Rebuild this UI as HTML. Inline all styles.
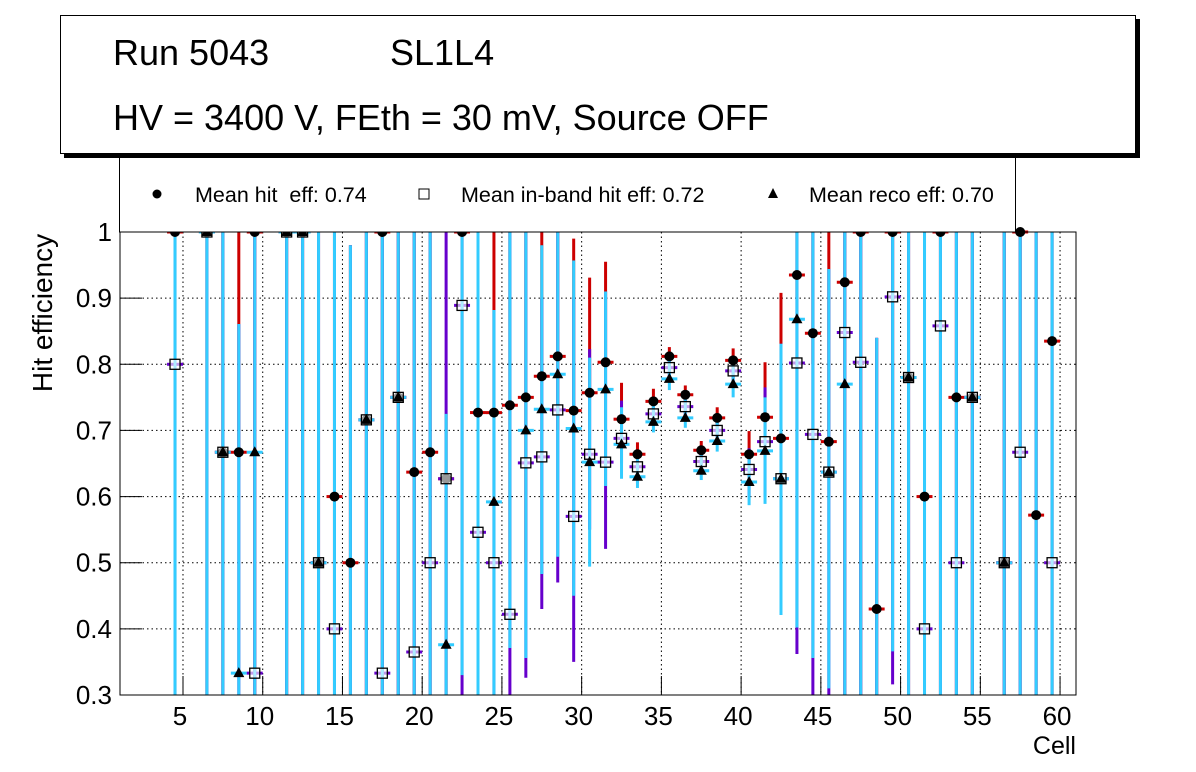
<!DOCTYPE html>
<html><head><meta charset="utf-8"><style>
body{margin:0;background:#fff;}
svg{display:block;font-family:"Liberation Sans",Arial,sans-serif;}
</style></head><body>
<svg id="chart" width="1196" height="772" viewBox="0 0 1196 772" xmlns="http://www.w3.org/2000/svg">
<rect x="0" y="0" width="1196" height="772" fill="#fff"/>
<g id="grid"></g>
<g id="marks"></g>
<rect x="120" y="232" width="956" height="463" fill="none" stroke="#000" stroke-width="1"/>
<g id="axes"></g>
<text x="52" y="313" font-size="28" text-anchor="middle" transform="rotate(-90 52 313)">Hit efficiency</text>
<text x="1076" y="754" font-size="25" text-anchor="end">Cell</text>
<g>
<rect x="119.5" y="150" width="896" height="82" fill="#fff" stroke="#000"/>
<circle cx="157" cy="194" r="4.5" fill="#000"/>
<text x="195" y="202" font-size="21.5">Mean hit&#160; eff: 0.74</text>
<rect x="419" y="189" width="10" height="10" fill="#fff" stroke="#000"/>
<text x="461" y="202" font-size="21.5">Mean in-band hit eff: 0.72</text>
<polygon points="773,188 778,198 768,198" fill="#000"/>
<text x="809" y="202" font-size="21.5">Mean reco eff: 0.70</text>
</g>
<g>
<rect x="64" y="19" width="1076" height="139" fill="#000"/>
<rect x="60.5" y="15.5" width="1075" height="138" fill="#fff" stroke="#000"/>
<text x="113" y="65" font-size="36">Run 5043</text>
<text x="390" y="65" font-size="36">SL1L4</text>
<text x="113" y="130" font-size="36">HV = 3400 V, FEth = 30 mV, Source OFF</text>
</g>
</svg>
<script>
const cells=[4.5,6.5,7.5,8.5,9.5,11.5,12.5,13.5,14.5,15.5,16.5,17.5,18.5,19.5,20.5,21.5,22.5,23.5,24.5,25.5,26.5,27.5,28.5,29.5,30.5,31.5,32.5,33.5,34.5,35.5,36.5,37.5,38.5,39.5,40.5,41.5,42.5,43.5,44.5,45.5,46.5,47.5,48.5,49.5,50.5,51.5,52.5,53.5,54.5,56.5,57.5,58.5,59.5];
const hitEff=[1,1,.667,.667,1,1,1,.5,.6,.5,.716,1,.75,.637,.667,.627,1,.727,.727,.738,.75,.782,.812,.73,.757,.803,.717,.664,.744,.812,.754,.67,.719,.806,.664,.72,.688,.935,.847,.683,.924,1,.43,1,.78,.6,1,.75,.75,.5,1,.572,.835];
const inbandEff=[.8,1,.667,null,.333,1,1,.5,.4,null,.716,.333,.75,.365,.5,.627,.889,.546,.5,.422,.651,.66,.731,.57,.664,.652,.688,.645,.725,.795,.736,.653,.70,.79,.641,.683,.627,.802,.694,.637,.848,.803,null,.902,.78,.4,.858,.5,.75,.5,.667,null,.5];
const recoEff=[null,1,.667,.333,.667,1,1,.5,null,null,.716,null,.75,null,null,.376,null,null,.592,null,.70,.732,.785,.703,.652,.762,.679,.63,.713,.778,.719,.639,.684,.77,.622,.669,.627,.868,null,.637,.77,null,null,null,.78,null,null,null,.75,.5,null,null,null];
const hitLo=[0,0,0,.667,0,0,0,0,0,0,0,0,0,0,0,0,.5,0,.727,.5,.5,.78,.7,.73,.76,.8,.7,.65,.73,.8,.74,.66,.71,.79,.65,.7,.67,.9,.8,.68,0,0,0,.5,0,0,0,0,0,0,0,0,0];
const hitHi=[1,1,1,1,1,1,1,1,1,.98,1,1,1,1,1,.725,1,1,1,1,1,1,1,.99,.931,.955,.772,.682,.763,.826,.768,.684,.735,.824,.699,.803,.908,1,1,1,1,1,.84,1,1,1,1,1,1,1,1,1,1];
const inbLo=[0,0,0,0,0,0,0,0,0,0,0,0,0,0,0,.3,0,0,0,0,.326,.43,.47,.35,.55,.521,.65,.62,.71,.78,.72,.64,.69,.77,.6,.6,.5,.362,0,.3,0,0,0,.316,0,0,0,0,0,0,0,0,0];
const inbHi=[1,1,1,.861,1,1,1,1,1,.98,1,1,1,1,1,1,1,1,.882,1,1,.9,1,.9,.823,.91,.745,.67,.75,.815,.76,.675,.725,.81,.673,.765,.831,1,1,.944,1,1,.84,1,1,1,1,1,1,1,1,1,1];
const recoLo=[0,0,0,0,0,0,0,0,0,0,0,0,0,0,0,0,.33,0,0,.371,.356,.483,.509,.45,.494,.616,.627,.613,.697,.761,.704,.625,.668,.75,.587,.589,.421,.402,.356,.31,0,0,0,.366,0,0,0,0,0,0,0,0,0];
const recoHi=[1,1,1,.861,1,1,1,1,1,.98,1,1,1,1,1,.725,1,1,.882,1,1,.98,1,.957,.81,.91,.735,.67,.745,.81,.755,.67,.72,.805,.66,.75,.831,1,1,.944,1,1,.84,1,1,1,1,1,1,1,1,1,1];
const yTicks=[0.3,0.4,0.5,0.6,0.7,0.8,0.9,1];
const yTickLabels=["0.3","0.4","0.5","0.6","0.7","0.8","0.9","1"];
const xTicks=[5,10,15,20,25,30,35,40,45,50,55,60];

const X0=120,X1=1076,Y0=232,Y1=695,XMIN=1.05,XMAX=61,YMIN=0.3,YMAX=1;
function xs(v){return X0+(v-XMIN)/(XMAX-XMIN)*(X1-X0);}
function ys(v){return Y1-(v-YMIN)/(YMAX-YMIN)*(Y1-Y0);}
function cy(v){return Math.max(Y0,Math.min(Y1,ys(v)));}
const NS="http://www.w3.org/2000/svg";
function mk(tag,attrs,parent){const e=document.createElementNS(NS,tag);for(const k in attrs)e.setAttribute(k,attrs[k]);parent.appendChild(e);return e;}
const grid=document.getElementById('grid'),marks=document.getElementById('marks'),axes=document.getElementById('axes');
yTicks.forEach((t,i)=>{
  if(t>YMIN&&t<YMAX){const g=mk('line',{x1:X0,x2:X1,y1:ys(t),y2:ys(t),stroke:'#000','stroke-dasharray':'1.5 3','stroke-width':1},grid);
  
  }
  const tk=mk('line',{x1:X0,x2:X0+22,y1:ys(t),y2:ys(t),stroke:'#000'},axes);
  
  
  const lb=mk('text',{x:X0-8,y:ys(t)+9,'font-size':26,'text-anchor':'end'},axes);lb.textContent=yTickLabels[i];
  
  
});
xTicks.forEach(t=>{
  const g=mk('line',{x1:xs(t),x2:xs(t),y1:Y0,y2:Y1,stroke:'#000','stroke-dasharray':'1.5 3','stroke-width':1},grid);
  
  
  const tk=mk('line',{x1:xs(t),x2:xs(t),y1:Y1,y2:Y1-19,stroke:'#000'},axes);
  
  
  const lb=mk('text',{x:xs(t)-3,y:725,'font-size':26,'text-anchor':'middle'},axes);lb.textContent=String(t);
  
  
});
const RED='#cc0000',PUR='#6600cc',CYA='#33ccff',HW=0.5;
function vbar(c,lo,hi,col){
  const l=mk('line',{x1:xs(c),x2:xs(c),y1:cy(lo),y2:cy(hi),stroke:col,'stroke-width':3},marks);
  
  
}
function hbar(c,v,col){
  if(v==null||v<YMIN||v>YMAX)return;
  const l=mk('line',{x1:xs(c-HW),x2:xs(c+HW),y1:ys(v),y2:ys(v),stroke:col,'stroke-width':3},marks);
  
  
}
cells.forEach((c,i)=>{
  vbar(c,hitLo[i],hitHi[i],RED);hbar(c,hitEff[i],RED);
  vbar(c,inbLo[i],inbHi[i],PUR);hbar(c,inbandEff[i],PUR);
  vbar(c,recoLo[i],recoHi[i],CYA);hbar(c,recoEff[i],CYA);
});
cells.forEach((c,i)=>{
  const x=xs(c);
  if(hitEff[i]!=null){const m=mk('circle',{cx:x,cy:ys(hitEff[i]),r:5,fill:'#000'},marks);
    
    }
  if(inbandEff[i]!=null){const y=ys(inbandEff[i]);const m=mk('rect',{x:x-5,y:y-5,width:10,height:10,fill:'#fff','fill-opacity':0.6,stroke:'#000','stroke-width':1.3},marks);
    
    }
  if(recoEff[i]!=null){const y=ys(recoEff[i]);const m=mk('polygon',{points:`${x},${y-6} ${x+5.5},${y+4} ${x-5.5},${y+4}`,fill:'#000'},marks);
    
    }
});
</script>
</body></html>
